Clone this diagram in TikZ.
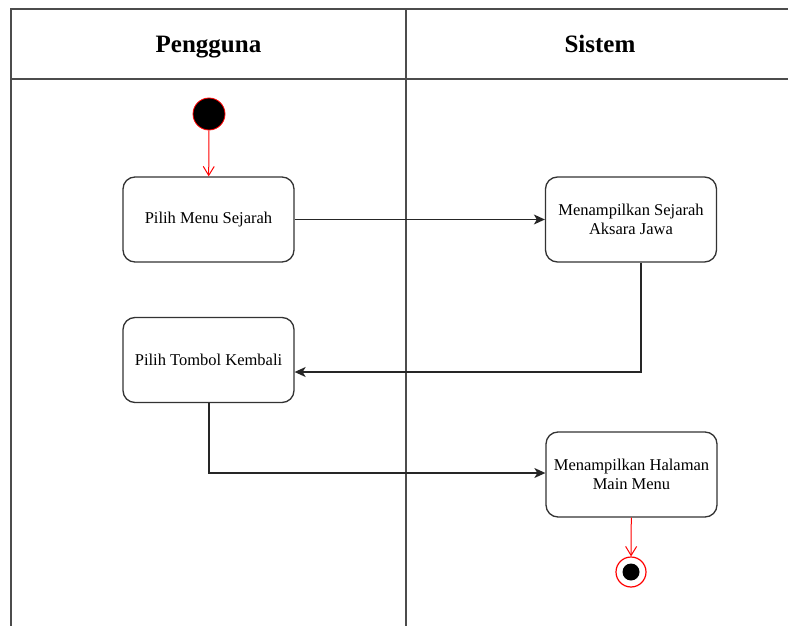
\documentclass[tikz,border=0pt]{standalone}
\usepackage{fontspec}
\setmainfont{Liberation Serif}
\usetikzlibrary{arrows.meta}
\begin{document}
\begin{tikzpicture}[x=1pt,y=-1pt,
  lane/.style={draw=black!70,line width=1.6pt},
  action/.style={draw=black!80,line width=1.3pt,rounded corners=12pt,fill=white,
    minimum width=171pt,minimum height=85pt,align=center,
    font=\fontsize{16.5}{19}\selectfont},
  header/.style={font=\bfseries\fontsize{25}{28}\selectfont,anchor=base},
  flow/.style={draw=black!85,line width=1.3pt,-{Stealth[length=11pt,width=10pt,inset=3pt]}},
  redflow/.style={draw=red,line width=1pt,-{Straight Barb[length=9pt,width=11pt]}}]
\useasboundingbox (0,0) rectangle (788,626);
\fill[white] (0,0) rectangle (788,626);
% swimlane frame
\draw[lane] (11,632) -- (11,9) -- (795,9);
\draw[lane] (11,79) -- (795,79);
\draw[lane] (406,9) -- (406,632);
\node[header] (hUser) at (208.5,53) {Pengguna};
\node[header] (hSys) at (600,53) {Sistem};
% start and end states
\node[circle,fill=black,draw=red,line width=0.8pt,minimum size=32pt,inner sep=0pt] (start) at (209,114) {};
\node[circle,draw=red,line width=1.2pt,fill=white,minimum size=30pt,inner sep=0pt] (end) at (631,572) {};
\node[circle,fill=black,minimum size=17pt,inner sep=0pt] (endDot) at (631,572) {};
% actions
\node[action] (a1) at (208.5,219.5) {Pilih Menu Sejarah};
\node[action] (a2) at (631,219.5) {Menampilkan Sejarah\\Aksara Jawa};
\node[action] (a3) at (208.5,360) {Pilih Tombol Kembali};
\node[action] (a4) at (631.5,474.5) {Menampilkan Halaman\\Main Menu};
% flows
\draw[redflow] (start) -- (a1);
\draw[flow] (a1) -- (a2);
\coordinate (c2) at (641,372);
\draw[flow] (a2.south -| c2) -- (c2) -- (a3.east |- c2);
\coordinate (c3) at (209,473);
\draw[flow] (a3.south -| c3) -- (c3) -- (a4.west |- c3);
\draw[redflow] (a4) -- (end);
\end{tikzpicture}
\end{document}
